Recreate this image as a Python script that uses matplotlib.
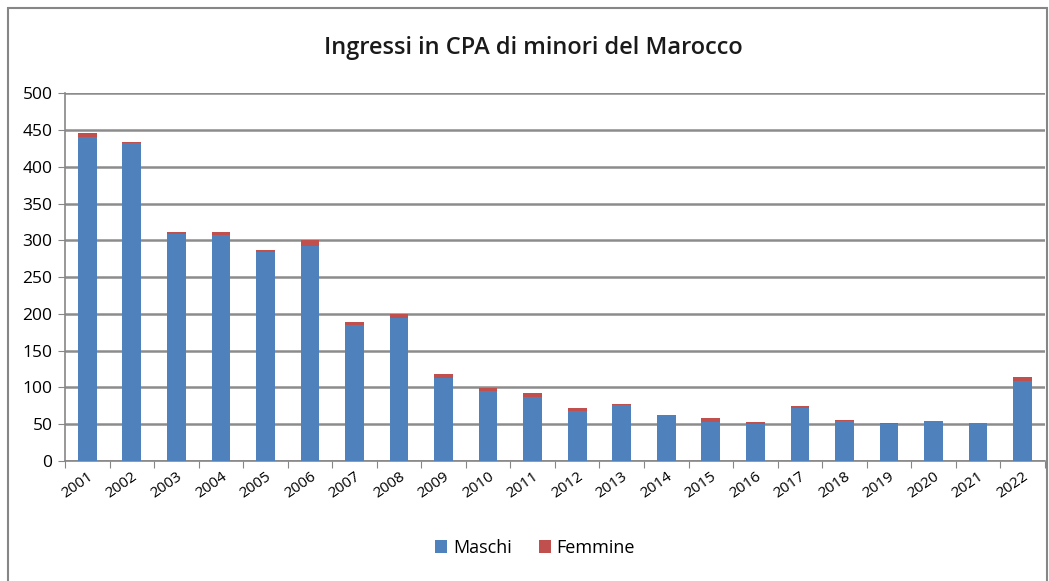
import numpy as np
import matplotlib.pyplot as plt
from matplotlib.patches import Rectangle

# Dati
anni = [str(a) for a in range(2001, 2023)]
maschi = [441, 432, 309, 307, 284, 293, 185, 195, 113, 95, 87, 68,
          76, 63, 53, 51, 72, 54, 50, 55, 52, 109]
femmine = [5, 2, 3, 5, 3, 7, 4, 5, 5, 4, 5, 4,
           2, 0, 5, 2, 3, 2, 2, 0, 0, 5]

plt.rcParams['font.family'] = ['Open Sans', 'DejaVu Sans']

fig = plt.figure(figsize=(10.49, 5.81), dpi=100)
ax = fig.add_axes([0.062, 0.2065, 0.934, 0.633])

x = np.arange(len(anni))
ax.bar(x, maschi, width=0.42, color='#4F81BD', label='Maschi', zorder=3)
ax.bar(x, femmine, width=0.42, bottom=maschi, color='#C0504D', label='Femmine', zorder=3)

ax.set_xlim(-0.5, len(anni) - 0.5)
ax.set_ylim(0, 500)
ax.set_yticks(range(0, 501, 50))
ax.set_xticks(np.arange(-0.5, len(anni), 1), minor=False)
ax.set_xticklabels([])
ax.set_xticks(x, minor=True)
ax.set_xticklabels(anni, minor=True, rotation=35, ha='right', rotation_mode='anchor', fontsize=11)
ax.tick_params(axis='x', which='minor', length=0, pad=6)
ax.tick_params(axis='x', which='major', length=5, color='#868686')
ax.tick_params(axis='y', length=5, color='#868686', labelsize=12.5, pad=4)

ax.grid(axis='y', color='#8c8c8c', linewidth=1.8, zorder=0)
for s in ['top', 'right']:
    ax.spines[s].set_visible(False)
ax.spines['left'].set_color('#868686')
ax.spines['bottom'].set_color('#868686')
ax.spines['left'].set_linewidth(1.2)
ax.spines['bottom'].set_linewidth(1.2)

fig.text(0.508, 0.918, 'Ingressi in CPA di minori del Marocco', ha='center', va='center',
         fontsize=17, fontweight='semibold', color='#1a1a1a')

fig.legend(loc='center', bbox_to_anchor=(0.51, 0.057), ncol=2, frameon=False,
           fontsize=13, handlelength=0.7, handleheight=0.7, handletextpad=0.3,
           columnspacing=1.5)

fig.patches.append(Rectangle((0.008, -0.05), 0.99, 1.037, transform=fig.transFigure,
                             fill=False, edgecolor='#868686', linewidth=1.5))

fig.savefig('out.png', dpi=100)
